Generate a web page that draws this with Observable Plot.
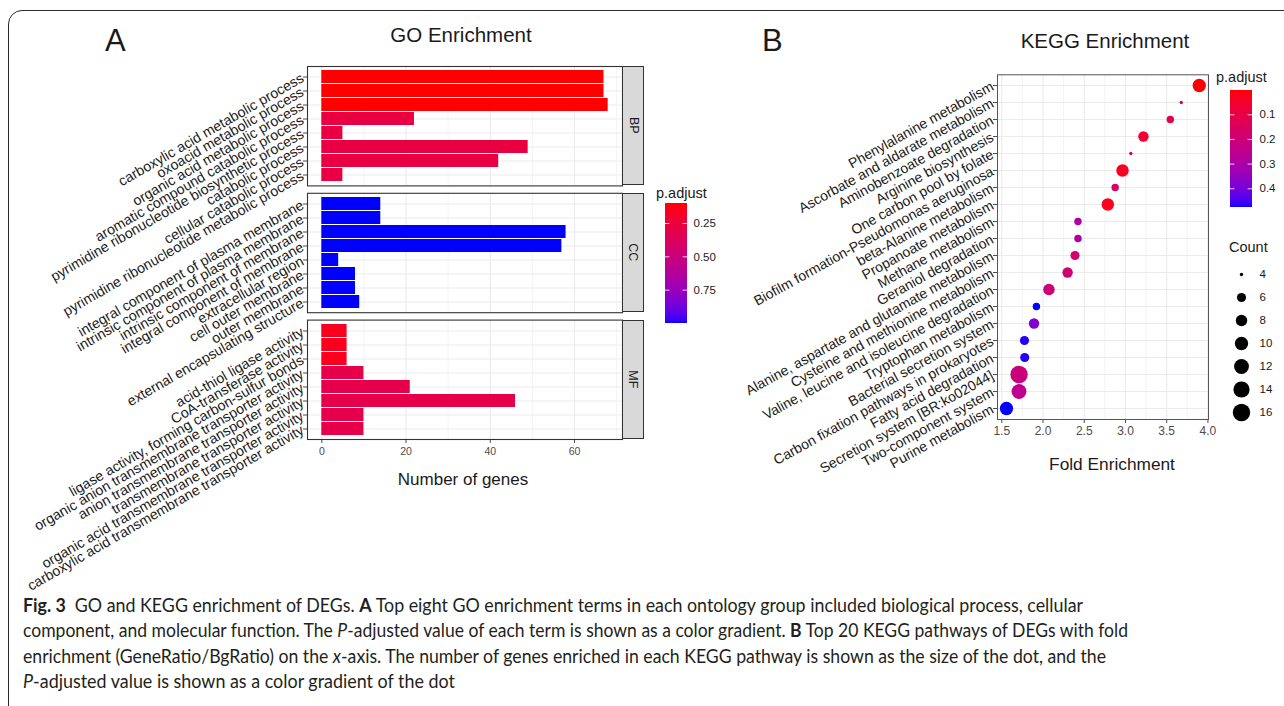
<!DOCTYPE html>
<html>
<head>
<meta charset="utf-8">
<script src="https://cdn.jsdelivr.net/npm/d3@7"></script>
<script src="https://cdn.jsdelivr.net/npm/@observablehq/plot@0.6"></script>
<style>
  html, body { margin: 0; padding: 0; background: #fff; overflow: hidden; }
  #root { position: relative; width: 1284px; height: 706px; overflow: hidden; font-family: "Liberation Sans", Arial, sans-serif; }
  .txt { position: absolute; white-space: nowrap; line-height: 1; }
  .cap { position: absolute; white-space: nowrap; line-height: 1; font-family: Lato, "Open Sans", sans-serif; color: #231f20; display: inline-block; transform-origin: 0 0; }
  .strip { position: absolute; box-sizing: border-box; background: #d9d9d9; border: 1px solid #333; display: flex; align-items: center; justify-content: center; }
  .strip span { display: inline-block; transform: rotate(90deg); font-size: 12.5px; color: #1a1a1a; line-height: 1; }
</style>
</head>
<body>
<div id="root"></div>
<script>
// ---------------- data ----------------
const bpTerms = ["carboxylic acid metabolic process", "oxoacid metabolic process", "organic acid metabolic process", "aromatic compound catabolic process", "pyrimidine ribonucleotide biosynthetic process", "catabolic process", "cellular catabolic process", "pyrimidine ribonucleotide metabolic process"];
const bpCounts = [67, 67, 68, 22, 5, 49, 42, 5];
const bpPadj = [0.10, 0.10, 0.10, 0.28, 0.28, 0.28, 0.28, 0.28];

const ccTerms = ["integral component of plasma membrane", "intrinsic component of plasma membrane", "intrinsic component of membrane", "integral component of membrane", "extracellular region", "cell outer membrane", "outer membrane", "external encapsulating structure"];
const ccCounts = [14, 14, 58, 57, 4, 8, 8, 9];
const ccPadj = [1.0, 1.0, 1.0, 1.0, 1.0, 1.0, 1.0, 1.0];

const mfTerms = ["acid-thiol ligase activity", "CoA-transferase activity", "ligase activity, forming carbon-sulfur bonds", "organic anion transmembrane transporter activity", "anion transmembrane transporter activity", "transmembrane transporter activity", "organic acid transmembrane transporter activity", "carboxylic acid transmembrane transporter activity"];
const mfCounts = [6, 6, 6, 10, 21, 46, 10, 10];
const mfPadj = [0.155, 0.155, 0.155, 0.30, 0.30, 0.30, 0.30, 0.30];

const goTicks = [0, 20, 40, 60];
const goMinorTicks = [10, 30, 50, 70];
const goXDomain = [-3.4, 71.4];
const goPadjDomain = [0.10, 1.0];
const goPadjTicks = [0.25, 0.50, 0.75];

const keggTerms = ["Phenylalanine metabolism", "Ascorbate and aldarate metabolism", "Aminobenzoate degradation", "Arginine biosynthesis", "One carbon pool by folate", "Biofilm formation-Pseudomonas aeruginosa", "beta-Alanine metabolism", "Propanoate metabolism", "Methane metabolism", "Geraniol degradation", "Alanine, aspartate and glutamate metabolism", "Cysteine and methionine metabolism", "Valine, leucine and isoleucine degradation", "Tryptophan metabolism", "Bacterial secretion system", "Carbon fixation pathways in prokaryotes", "Fatty acid degradation", "Secretion system [BR:ko02044]", "Two-component system", "Purine metabolism"];
const keggFold = [3.895, 3.677, 3.544, 3.218, 3.065, 2.964, 2.875, 2.786, 2.424, 2.424, 2.388, 2.298, 2.072, 1.920, 1.891, 1.775, 1.778, 1.709, 1.709, 1.557];
const keggCount = [10, 4, 5, 7, 4, 9, 5, 9, 5, 5, 6, 7, 8, 5, 7, 6, 6, 16, 12, 10];
const keggPadj = [0.002, 0.15, 0.12, 0.064, 0.18, 0.04, 0.177, 0.03, 0.29, 0.29, 0.177, 0.19, 0.20, 0.476, 0.38, 0.47, 0.47, 0.21, 0.25, 0.476];

const keggTicks = [1.5, 2.0, 2.5, 3.0, 3.5, 4.0];
const keggMinorTicks = [1.75, 2.25, 2.75, 3.25, 3.75];
const keggXDomain = [1.448, 4.007];
const keggPadjDomain = [0.0016, 0.476];
const keggPadjTicks = [0.1, 0.2, 0.3, 0.4];
const countBreaks = [4, 6, 8, 10, 12, 14, 16];
const countMin = 4, countMax = 16;

// ---------------- layout / style ----------------
const W = 1284, H = 706;
const FONT = '"Liberation Sans", Arial, sans-serif';
const GRID = "#ebebeb";
const root = document.getElementById("root");
const colorOpts = domain => ({type: "linear", domain, range: ["red", "blue"], interpolate: d3.interpolateLab});

function layer(opts) {
  const {style = {}, ...rest} = opts;
  const svg = Plot.plot({width: W, height: H, ...rest,
    style: {background: "none", overflow: "visible", fontFamily: FONT, ...style}});
  svg.style.position = "absolute";
  svg.style.left = "0px";
  svg.style.top = "0px";
  root.appendChild(svg);
  return svg;
}

function addText(txt, x, baseline, size, {anchor = "start", weight = "normal", color = "#1a1a1a"} = {}) {
  const d = document.createElement("div");
  d.className = "txt";
  d.textContent = txt;
  d.style.fontSize = size + "px";
  d.style.fontWeight = weight;
  d.style.color = color;
  d.style.left = x + "px";
  d.style.top = (baseline - 0.8465 * size) + "px";
  if (anchor === "middle") d.style.transform = "translateX(-50%)";
  root.appendChild(d);
}

// outer frame
const frameDiv = document.createElement("div");
Object.assign(frameDiv.style, {position: "absolute", left: "8px", top: "10px", width: "1320px", height: "740px",
  border: "1.6px solid #2a2a2a", borderRadius: "14px", boxSizing: "border-box"});
root.appendChild(frameDiv);

// ---------------- Panel A : GO ----------------
const A_LEFT = 307, A_RIGHT = 622;
const facets = [
  {name: "BP", terms: bpTerms, counts: bpCounts, padj: bpPadj, top: 66, bottom: 185.4},
  {name: "CC", terms: ccTerms, counts: ccCounts, padj: ccPadj, top: 192.8, bottom: 312.2},
  {name: "MF", terms: mfTerms, counts: mfCounts, padj: mfPadj, top: 319.6, bottom: 439}
];

facets.forEach((f, k) => {
  const showX = k === facets.length - 1;
  const rows = f.terms.map((term, i) => ({term, count: f.counts[i], padj: f.padj[i]}));
  layer({
    marginLeft: A_LEFT, marginRight: W - A_RIGHT, marginTop: f.top, marginBottom: H - f.bottom,
    style: {fontSize: "10.5px", color: "#4d4d4d"},
    x: {domain: goXDomain, ticks: goTicks, tickSize: 4, tickPadding: 4, axis: showX ? "bottom" : null, label: null},
    y: {domain: f.terms, type: "band", paddingInner: 0.1, paddingOuter: 0.15, tickSize: 4, tickFormat: () => "", label: null},
    color: colorOpts(goPadjDomain),
    marks: [
      Plot.ruleX(goMinorTicks, {stroke: GRID, strokeWidth: 0.6}),
      Plot.ruleX(goTicks, {stroke: GRID, strokeWidth: 1.1}),
      Plot.ruleY(f.terms, {stroke: GRID, strokeWidth: 1.1}),
      Plot.barX(rows, {x: "count", y: "term", fill: "padj"}),
      Plot.frame({stroke: "#333", strokeWidth: 1.1}),
      Plot.text(rows, {y: "term", text: "term", frameAnchor: "left", dx: -5, textAnchor: "end", lineAnchor: "middle",
        rotate: -30, fontSize: 14.2, fill: "#1a1a1a"})
    ]
  });
  const s = document.createElement("div");
  s.className = "strip";
  Object.assign(s.style, {left: A_RIGHT + "px", top: f.top + "px", width: "22px", height: (f.bottom - f.top) + "px"});
  const sp = document.createElement("span");
  sp.textContent = f.name;
  s.appendChild(sp);
  root.appendChild(s);
});

// colorbar helper
function colorbar({left, right, top, bottom, domain, ticks, format, padding}) {
  const [lo, hi] = domain, n = 160;
  const slices = d3.range(n).map(i => ({y1: lo + (hi - lo) * i / n, y2: lo + (hi - lo) * (i + 1) / n, v: lo + (hi - lo) * (i + 0.5) / n}));
  layer({
    marginLeft: left, marginRight: W - right, marginTop: top, marginBottom: H - bottom,
    style: {fontSize: "11.5px", color: "#1a1a1a"},
    x: {domain: [0, 1], axis: null},
    y: {domain, reverse: true, axis: "right", ticks, tickFormat: format, tickSize: 0, tickPadding: padding, label: null},
    color: colorOpts(domain),
    marks: [
      Plot.rect(slices, {x1: 0, x2: 1, y1: "y1", y2: "y2", fill: "v", shapeRendering: "crispEdges"}),
      Plot.ruleY(ticks, {x1: 0, x2: 0.2, stroke: "white", strokeOpacity: 0.8}),
      Plot.ruleY(ticks, {x1: 0.8, x2: 1, stroke: "white", strokeOpacity: 0.8})
    ]
  });
}

colorbar({left: 665, right: 687, top: 203, bottom: 323, domain: goPadjDomain, ticks: goPadjTicks, format: d3.format(".2f"), padding: 6});
addText("p.adjust", 656, 198, 14.5);

addText("A", 105, 51, 31);
addText("GO Enrichment", 461, 42, 20.5, {anchor: "middle"});
addText("Number of genes", 463, 485, 17, {anchor: "middle"});

// ---------------- Panel B : KEGG ----------------
const keggRows = keggTerms.map((term, i) => ({term, fold: keggFold[i], count: keggCount[i], padj: keggPadj[i]}));
const sizeOf = c => Math.sqrt((c - countMin) / (countMax - countMin));
const rScale = {type: "linear", domain: [0, 1], range: [1.7, 8.7]};

layer({
  marginLeft: 997, marginRight: W - 1208, marginTop: 74.3, marginBottom: H - 419,
  style: {fontSize: "12px", color: "#4d4d4d"},
  x: {domain: keggXDomain, ticks: keggTicks, tickFormat: d3.format(".1f"), tickSize: 4, tickPadding: 3, label: null},
  y: {domain: keggTerms, type: "point", padding: 0.6, tickSize: 4, tickFormat: () => "", label: null},
  color: colorOpts(keggPadjDomain),
  r: rScale,
  marks: [
    Plot.ruleX(keggMinorTicks, {stroke: GRID, strokeWidth: 0.6}),
    Plot.ruleX(keggTicks, {stroke: GRID, strokeWidth: 1.1}),
    Plot.ruleY(keggTerms, {stroke: GRID, strokeWidth: 1.1}),
    Plot.dot(keggRows, {x: "fold", y: "term", r: d => sizeOf(d.count), fill: "padj"}),
    Plot.frame({stroke: "#555"}),
    Plot.text(keggTerms, {y: d => d, text: d => d, frameAnchor: "left", dx: -5, textAnchor: "end", lineAnchor: "middle",
      rotate: -29, fontSize: 14, fill: "#1a1a1a"})
  ]
});

colorbar({left: 1230, right: 1252, top: 90, bottom: 207, domain: keggPadjDomain, ticks: keggPadjTicks, format: d3.format(".1f"), padding: 7});
addText("p.adjust", 1216, 82, 14.5);

// Count legend
addText("Count", 1229, 252, 14.5);
layer({
  marginLeft: 1231, marginRight: W - 1251, marginTop: 272.7, marginBottom: H - 414,
  style: {fontSize: "11.5px", color: "#1a1a1a"},
  y: {domain: countBreaks, type: "point", padding: 0, axis: null},
  r: rScale,
  marks: [
    Plot.dot(countBreaks, {y: d => d, r: d => sizeOf(d), fill: "black"}),
    Plot.text(countBreaks, {y: d => d, text: d => String(d), frameAnchor: "right", dx: 8, textAnchor: "start", fill: "#1a1a1a"})
  ]
});

addText("B", 762, 51, 31);
addText("KEGG Enrichment", 1105, 48, 20.5, {anchor: "middle"});
addText("Fold Enrichment", 1112, 471, 17.3, {anchor: "middle"});

// ---------------- caption ----------------
const captionLines = [
  {target: 1060, parts: [["b", "Fig. 3"], ["n", "\u2002GO and KEGG enrichment of DEGs. "], ["b", "A"], ["n", " Top eight GO enrichment terms in each ontology group included biological process, cellular"]]},
  {target: 1105, parts: [["n", "component, and molecular function. The "], ["i", "P"], ["n", "-adjusted value of each term is shown as a color gradient. "], ["b", "B"], ["n", " Top 20 KEGG pathways of DEGs with fold"]]},
  {target: 1083, parts: [["n", "enrichment (GeneRatio/BgRatio) on the "], ["i", "x"], ["n", "-axis. The number of genes enriched in each KEGG pathway is shown as the size of the dot, and the"]]},
  {target: 432, parts: [["i", "P"], ["n", "-adjusted value is shown as a color gradient of the dot"]]}
];
const capSize = 18.5, capBase = 612, capStep = 25.5;
captionLines.forEach((line, li) => {
  const d = document.createElement("div");
  d.className = "cap";
  d.style.fontSize = capSize + "px";
  d.style.left = "23px";
  d.style.top = (capBase + li * capStep - 0.887 * capSize) + "px";
  line.parts.forEach(([kind, t]) => {
    const s = document.createElement("span");
    s.textContent = t;
    if (kind === "b") s.style.fontWeight = "bold";
    if (kind === "i") s.style.fontStyle = "italic";
    d.appendChild(s);
  });
  root.appendChild(d);
  const w = d.getBoundingClientRect().width;
  if (w > 0) d.style.transform = `scaleX(${line.target / w})`;
});
</script>
</body>
</html>
